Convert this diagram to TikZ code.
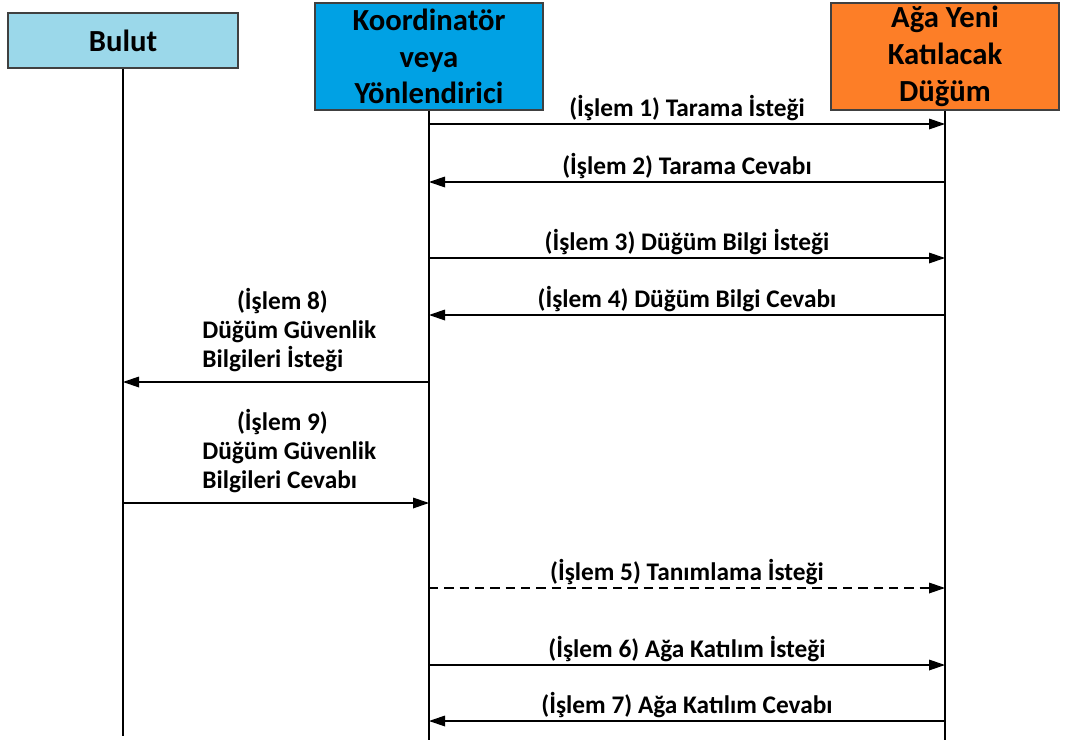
\documentclass[tikz,border=0pt]{standalone}
\usepackage{fontspec}
\setmainfont{Carlito}
\usetikzlibrary{arrows.meta,positioning}
\definecolor{bulutblue}{RGB}{155,216,234}
\definecolor{korblue}{RGB}{0,161,228}
\definecolor{agaorange}{RGB}{253,126,39}

\begin{document}
\begin{tikzpicture}[x=0.75pt,y=-0.75pt,
  actor/.style={draw=black!75,line width=0.9pt,font=\bfseries\fontsize{23}{27.6}\selectfont,align=center,inner sep=0pt},
  life/.style={line width=1.5pt},
  msg/.style={line width=0.9pt,-{Triangle[length=12pt,width=8pt]}},
  lbl/.style={font=\bfseries\fontsize{19}{21.8}\selectfont,inner sep=2pt}]
  \useasboundingbox (0,0) rectangle (1066,742);
  % participants
  \node[actor,fill=bulutblue,minimum width=172.5pt,minimum height=41.25pt] (bulut) at (123,40.5) {Bulut};
  \node[actor,fill=korblue,minimum width=171pt,minimum height=80.25pt] (kor) at (429,56.5) {Koordinatör\\veya\\Yönlendirici};
  \node[actor,fill=agaorange,minimum width=171pt,minimum height=80.25pt] (aga) at (945,56.5) {Ağa Yeni\\Katılacak\\Düğüm};
  % lifelines
  \coordinate (bulutend) at (bulut.south |- 0,736);
  \coordinate (korend) at (kor.south |- 0,740);
  \coordinate (agaend) at (aga.south |- 0,740);
  \draw[life] (bulut.south) -- (bulutend);
  \draw[life] (kor.south) -- (korend);
  \draw[life] (aga.south) -- (agaend);
  % message points
  \foreach \n/\y in {1/124,2/182,3/258,4/315,5/588,6/665,7/721,8/382,9/503}{
    \coordinate (b\n) at (bulut.south |- 0,\y);
    \coordinate (k\n) at (kor.south |- 0,\y);
    \coordinate (a\n) at (aga.south |- 0,\y);
  }
  \draw[msg] (k1) -- node[lbl,above] (l1) {(İşlem 1) Tarama İsteği} (a1);
  \draw[msg] (a2) -- node[lbl,above] (l2) {(İşlem 2) Tarama Cevabı} (k2);
  \draw[msg] (k3) -- node[lbl,above] (l3) {(İşlem 3) Düğüm Bilgi İsteği} (a3);
  \draw[msg] (a4) -- node[lbl,above] (l4) {(İşlem 4) Düğüm Bilgi Cevabı} (k4);
  \draw[msg] (k8) -- node[lbl,above,align=left,xshift=10pt,yshift=5pt] (l8) {\hspace*{26pt}(İşlem 8)\\Düğüm Güvenlik\\Bilgileri İsteği} (b8);
  \draw[msg] (b9) -- node[lbl,above,align=left,xshift=10pt,yshift=5pt] (l9) {\hspace*{26pt}(İşlem 9)\\Düğüm Güvenlik\\Bilgileri Cevabı} (k9);
  \draw[msg,dash pattern=on 7pt off 4.5pt] (k5) -- node[lbl,above] (l5) {(İşlem 5) Tanımlama İsteği} (a5);
  \draw[msg] (k6) -- node[lbl,above] (l6) {(İşlem 6) Ağa Katılım İsteği} (a6);
  \draw[msg] (a7) -- node[lbl,above] (l7) {(İşlem 7) Ağa Katılım Cevabı} (k7);
\end{tikzpicture}
\end{document}
